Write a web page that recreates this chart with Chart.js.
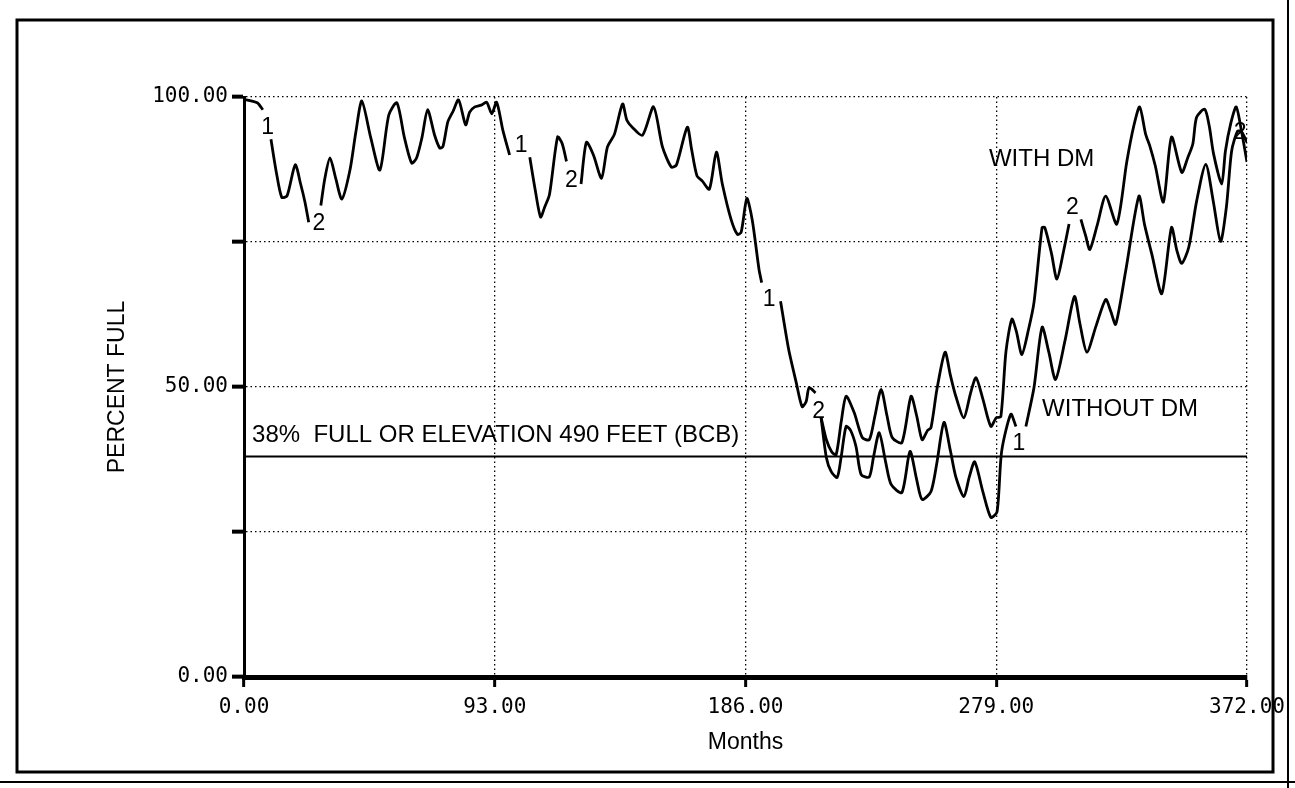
<!DOCTYPE html>
<html>
<head>
<meta charset="utf-8">
<script src="https://cdn.jsdelivr.net/npm/chart.js@4"></script>
<style>
  body { margin: 0; background: #fff; }
  canvas { display: block; }
</style>
</head>
<body>
<canvas id="grafico" width="1295" height="788"></canvas>
<script>
// months where both runs are the same (null = gap for the run number)
const monthsBoth = [0, 3, 5, 7, 8.5, 10, 12, 14, 16, 19, 21, 22.6, 24, 26, 28.5, 30, 31.9, 34, 36.3, 39.3,
  41.5, 43.7, 47, 50.4, 53.7, 56.7, 59.5, 62.2, 64, 66, 68.1, 70.7, 72.6, 73.8, 75.6, 77.5, 79.6, 82.2,
  83.7, 85.6, 88, 90, 91.9, 93.7, 96, 98.5, 102, 106, 108, 110, 111.5, 113.3, 116.3, 118, 119.6, 122,
  125, 127, 129.6, 132.6, 134.8, 137.4, 140.4, 142, 144, 147.8, 151.9, 155.2, 158.5, 160.4, 164.4, 166,
  168, 170, 172.6, 175.2, 177.4, 180.7, 183, 184.4, 186.5, 188.5, 191, 192, 195.5, 199, 202, 204.8, 207,
  208.5, 209.6, 212, 213, 214];
const pctBoth = [99.6, 99.3, 99.0, 97.8, null, 92.7, 87, 82.7, 83, 88.3, 85, 81.9, 78.4, null, 81.3, 86,
  89.5, 86, 82.4, 87.4, 94, 99.3, 93, 87.4, 96.9, 99, 93, 88.6, 89.5, 93, 97.8, 93.4, 91.2, 91.5, 95.7,
  97.5, 99.5, 95.2, 97.4, 98.3, 98.6, 99.1, 97.1, 99.1, 94.3, 90, null, 89.6, 84, 79.3, 81, 83.2, 93.1,
  92, 88.9, null, 85, 92.2, 90, 86, 91.4, 93.6, 98.8, 96, 94.8, 93.4, 98.3, 91.4, 87.9, 88.3, 94.8, 91,
  86.4, 85.5, 84.1, 90.5, 85, 78.8, 76.3, 76.7, 82.5, 78.8, 70.3, 68, null, 64.8, 56.5, 50.8, 46.6,
  47.5, 49.9, 49, null, 44.8];

// run 1 : without DM
const monthsSin = [214, 216, 217.8, 220, 221.5, 223.3, 225, 227, 228.9, 231.9, 233.5, 235.6, 238, 240,
  244, 247, 249.5, 251.5, 254.8, 257, 259.6, 262, 264, 267, 269, 271, 274, 277, 279.3, 281, 284.4, 286.3,
  288, 290, 293, 296, 298.5, 301, 304.5, 308, 310, 312.6, 316, 319.6, 321.5, 323.3, 327, 331.9, 334,
  336.7, 340.4, 344, 346, 347.8, 350.4, 353.3, 356.7, 359.5, 362.2, 364.4, 366.3, 368.5, 370, 372];
const pctSin = [44.8, 37.8, 35.4, 34.4, 38, 43.2, 42.5, 39.7, 34.9, 34.5, 38, 42.1, 37, 33.2, 31.8, 38.9,
  34, 30.6, 32, 37, 43.9, 39, 34.5, 31.1, 34.5, 37.1, 32, 27.5, 28.5, 38.9, 45.3, 43.2, null, 43.2, 49.9,
  60.3, 56, 51.3, 58, 65.6, 61, 56, 60.5, 65.1, 63, 60.8, 70, 82.9, 78, 72.9, 66.1, 77.5, 73.5, 71.3,
  74.1, 82, 88.4, 82, 75.1, 81.2, 90.7, 94.1, 94, 92.2];

// run 2 : with DM
const monthsCon = [214, 216, 218, 219.6, 221.5, 223.3, 226.3, 229.3, 231.9, 234, 236.3, 238.5, 240.4, 244,
  247.4, 249.5, 251.5, 253.5, 254.8, 257, 260, 262, 264, 267, 269.5, 271.5, 274, 277, 279, 280.7, 282.6,
  284.8, 286.5, 288.5, 291, 293, 296, 297, 299.5, 301.5, 304, 306, 308.2, 310.4, 312.2, 313.7, 316.5,
  319.6, 323.7, 327.4, 330, 332.2, 334.4, 336, 338, 341, 344, 347.8, 350, 351.9, 353.3, 356.3, 358,
  359.6, 362.6, 364, 366, 368, 370, 372];
const pctCon = [44.8, 40.9, 38.8, 38.3, 44, 48.4, 45.6, 41.3, 40.9, 45, 49.6, 45, 41.3, 40.4, 48.4, 45,
  40.9, 42.5, 43, 49.6, 56, 52, 48.4, 44.7, 49, 51.6, 48, 43.2, 44.7, 44.9, 56.1, 61.7, 59.5, 55.6, 60,
  64.6, 77.5, 77.5, 73, 68.6, 73.5, 78.1, null, 78.9, 76, 73.7, 78, 82.9, 78.1, 88.8, 95, 98.3, 93.6,
  91.5, 88.1, 81.9, 93.1, 87, 89.5, 91.9, 96.5, 97.9, 95, 90.2, 85, 90.7, 95.5, 98.3, 94, 88.8];

// 38% full line
const nivelMeses = [0, 372];
const nivelPct = [38, 38];

// run numbers written in the gaps
const marcaTexto = ['1', '2', '1', '2', '1', '2', '2', '1', '2'];
const marcaMes = [8.8, 27.8, 102.8, 121.4, 194.8, 213.1, 307.2, 287.4, 369.5];
const marcaPct = [94.8, 78.1, 91.6, 85.6, 65, 45.8, 80.9, 40.3, 93.9];

// notes
const notaTexto = ['WITH DM', 'WITHOUT DM', '38%  FULL OR ELEVATION 490 FEET (BCB)'];
const notaMes = [276.3, 296, 3];
const notaPct = [89.2, 46.2, 41.6];

const mesesTicks = [0, 93, 186, 279, 372];

function puntos(meses, valores) {
  return meses.map((m, i) => ({ x: m, y: valores[i] }));
}

const linea = {
  borderColor: '#000',
  borderWidth: 2.8,
  pointRadius: 0,
  tension: 0.25,
  spanGaps: false,
  fill: false
};

const textos = {
  id: 'textos',
  beforeDraw(chart) {
    const ctx = chart.ctx;
    ctx.save();
    ctx.fillStyle = '#fff';
    ctx.fillRect(0, 0, chart.width, chart.height);
    ctx.restore();
  },
  afterDatasetsDraw(chart) {
    const { ctx, scales: { x, y } } = chart;
    ctx.save();
    ctx.fillStyle = '#000';
    ctx.textBaseline = 'middle';
    ctx.textAlign = 'center';
    ctx.font = '23px "Liberation Sans", Arial, sans-serif';
    marcaTexto.forEach((t, i) => {
      ctx.fillText(t, x.getPixelForValue(marcaMes[i]), y.getPixelForValue(marcaPct[i]));
    });
    ctx.textAlign = 'left';
    ctx.font = '24px "Liberation Sans", Arial, sans-serif';
    notaTexto.forEach((t, i) => {
      ctx.fillText(t, x.getPixelForValue(notaMes[i]), y.getPixelForValue(notaPct[i]));
    });
    ctx.restore();
  },
  afterDraw(chart) {
    // page frame
    const ctx = chart.ctx;
    ctx.save();
    ctx.strokeStyle = '#000';
    ctx.lineWidth = 3;
    ctx.strokeRect(17, 20, 1256, 752);
    ctx.lineWidth = 2;
    ctx.beginPath();
    ctx.moveTo(1288, 0);
    ctx.lineTo(1288, 788);
    ctx.moveTo(0, 782);
    ctx.lineTo(1295, 782);
    ctx.stroke();
    ctx.restore();
  }
};

const fuenteTicks = { family: '"DejaVu Sans Mono", monospace', size: 21 };

new Chart(document.getElementById('grafico'), {
  type: 'line',
  data: {
    datasets: [
      Object.assign({ label: 'both', data: puntos(monthsBoth, pctBoth) }, linea),
      Object.assign({ label: 'WITHOUT DM', data: puntos(monthsSin, pctSin) }, linea),
      Object.assign({ label: 'WITH DM', data: puntos(monthsCon, pctCon) }, linea),
      Object.assign({ label: '38%', data: puntos(nivelMeses, nivelPct) }, linea, { borderWidth: 2, tension: 0 })
    ]
  },
  options: {
    responsive: false,
    animation: false,
    devicePixelRatio: 1,
    layout: { padding: { left: 0, top: 97, right: 48, bottom: 0 } },
    plugins: { legend: { display: false }, tooltip: { enabled: false } },
    scales: {
      x: {
        type: 'linear',
        min: 0,
        max: 372,
        afterFit: (s) => { s.height = 111; },
        afterBuildTicks: (s) => { s.ticks = mesesTicks.map(v => ({ value: v })); },
        ticks: {
          color: '#000',
          font: fuenteTicks,
          padding: 8,
          maxRotation: 0,
          callback: (v) => Number(v).toFixed(2)
        },
        grid: { color: '#000', lineWidth: 1.3, tickLength: 10, tickWidth: 3, tickColor: '#000', tickBorderDash: [] },
        border: { display: true, color: '#000', width: 5, dash: [1.5, 3] },
        title: {
          display: true,
          text: 'Months',
          color: '#000',
          font: { family: '"Liberation Sans", Arial, sans-serif', size: 23 },
          padding: { top: 0, bottom: 32 }
        }
      },
      y: {
        min: 0,
        max: 100,
        afterFit: (s) => { s.width = 244; },
        ticks: {
          stepSize: 25,
          color: '#000',
          font: fuenteTicks,
          padding: 4,
          callback: (v) => (v % 50 === 0 ? Number(v).toFixed(2) : '')
        },
        grid: { color: '#000', lineWidth: 1.3, tickLength: 12, tickWidth: 4, tickColor: '#000', tickBorderDash: [] },
        border: { display: true, color: '#000', width: 3, dash: [1.5, 3] },
        title: {
          display: true,
          text: 'PERCENT FULL',
          color: '#000',
          font: { family: '"Liberation Sans", Arial, sans-serif', size: 23 },
          padding: { top: 104, bottom: 0 }
        }
      }
    }
  },
  plugins: [textos]
});
</script>
</body>
</html>
